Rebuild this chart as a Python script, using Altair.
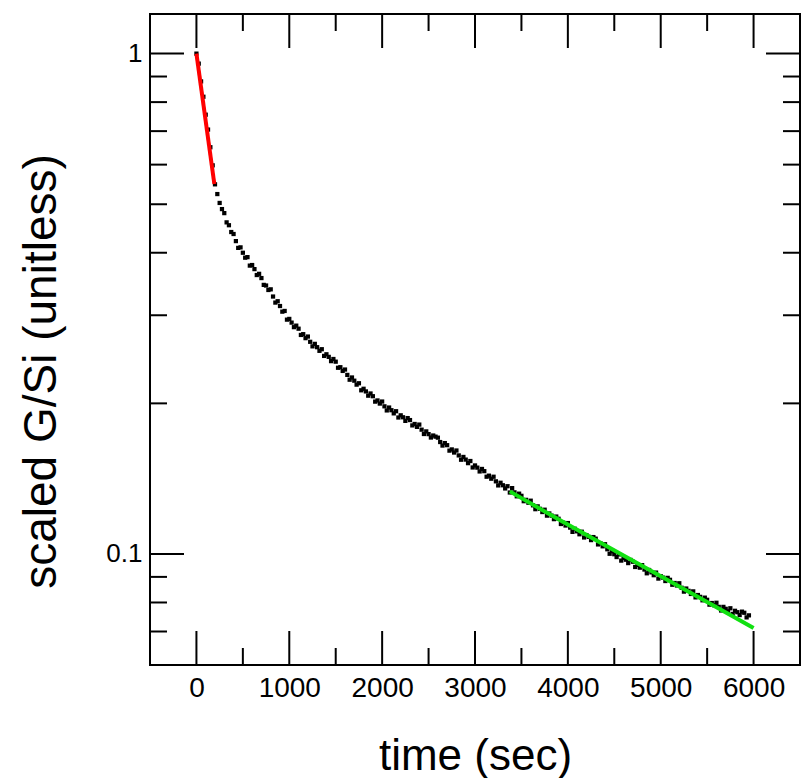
import altair as alt
import pandas as pd

# ---- data -------------------------------------------------------------
time_step = 25  # seconds between samples
gsi_values = [
    # 0 .. 275 s
    1.000, 0.955, 0.880, 0.820, 0.755, 0.705, 0.650, 0.598, 0.548, 0.524, 0.503, 0.489,
    # 300 .. 1000 s
    0.480, 0.460, 0.454, 0.440, 0.436, 0.422, 0.409, 0.410, 0.400, 0.391, 0.392, 0.377,
    0.378, 0.371, 0.361, 0.363, 0.356, 0.345, 0.344, 0.337, 0.338, 0.327, 0.318, 0.320,
    0.313, 0.305, 0.306, 0.294, 0.295,
    # 1025 .. 2000 s
    0.290, 0.284, 0.286, 0.282, 0.274, 0.275, 0.270, 0.272, 0.2655, 0.260, 0.263, 0.259,
    0.2547, 0.2566, 0.2488, 0.2507, 0.2477, 0.2429, 0.2453, 0.2423, 0.2356, 0.2362, 0.2322,
    0.2337, 0.2280, 0.2230, 0.2253, 0.2220, 0.2180, 0.2194, 0.2124, 0.2139, 0.2113, 0.2072,
    0.2093, 0.2067, 0.2016, 0.2027, 0.1998, 0.2017,
    # 2025 .. 3000 s
    0.1973, 0.1936, 0.1962, 0.1938, 0.1910, 0.1929, 0.1874, 0.1893, 0.1876, 0.1845, 0.1869,
    0.1852, 0.1807, 0.1819, 0.1795, 0.1814, 0.1772, 0.1737, 0.1758, 0.1736, 0.1709, 0.1725,
    0.1716, 0.1708, 0.1674, 0.1647, 0.1666, 0.1650, 0.1609, 0.1618, 0.1595, 0.1610, 0.1574,
    0.1543, 0.1563, 0.1544, 0.1519, 0.1534, 0.1489, 0.1503,
    # 3025 .. 4000 s
    0.1488, 0.1462, 0.1479, 0.1464, 0.1427, 0.1434, 0.1414, 0.1427, 0.1397, 0.1371, 0.1388,
    0.1372, 0.1352, 0.1366, 0.1327, 0.1354, 0.1328, 0.1304, 0.1320, 0.1307, 0.1275, 0.1283,
    0.1266, 0.1278, 0.1251, 0.1229, 0.1245, 0.1231, 0.1213, 0.1226, 0.1193, 0.1205, 0.1193,
    0.1174, 0.1188, 0.1176, 0.1148, 0.1155, 0.1140, 0.1153,
    # 4025 .. 5000 s
    0.1129, 0.1107, 0.1123, 0.1110, 0.1095, 0.1108, 0.1079, 0.1091, 0.1082, 0.1066, 0.1081,
    0.1073, 0.1045, 0.1051, 0.1036, 0.1046, 0.1022, 0.1001, 0.1013, 0.0999, 0.0986, 0.0998,
    0.0970, 0.0982, 0.0974, 0.0959, 0.0973, 0.0965, 0.0942, 0.0951, 0.0939, 0.0950, 0.0931,
    0.0915, 0.0929, 0.0919, 0.0907, 0.0918, 0.0893, 0.0903,
    # 5025 .. 5950 s
    0.0897, 0.0883, 0.0896, 0.0888, 0.0868, 0.0875, 0.0865, 0.0874, 0.0856, 0.0841, 0.0853,
    0.0844, 0.0832, 0.0842, 0.0819, 0.0828, 0.0821, 0.0808, 0.0818, 0.0810, 0.0792, 0.0798,
    0.0790, 0.0799, 0.0784, 0.0771, 0.0784, 0.0777, 0.0768, 0.0779, 0.0759, 0.0770, 0.0765,
    0.0755, 0.0767, 0.0763, 0.0747, 0.0754,
]
times = [time_step * i for i in range(len(gsi_values))]

fast_fit_t = [0, 193]
fast_fit_g = [1.0, 0.549]
slow_fit_t = [3375, 3912, 5524, 6000]
slow_fit_g = [0.1334, 0.1169, 0.0797, 0.0711]

y_major = [0.1, 1.0]
y_minor = [0.07, 0.08, 0.09, 0.2, 0.3, 0.4, 0.5, 0.6, 0.7, 0.8, 0.9]
x_major = [0, 1000, 2000, 3000, 4000, 5000, 6000]
x_minor = [500, 1500, 2500, 3500, 4500, 5500]

# ---- layout / style ----------------------------------------------------
W, H = 650, 651
FONT = "Liberation Sans"
MAJOR, MINOR = 34, 17

xs = alt.Scale(domain=[-500, 6500], nice=False, zero=False)
ys = alt.Scale(type="log", domain=[0.06, 1.2], nice=False)

pts_df = pd.DataFrame({"t": times, "g": gsi_values})
fast_df = pd.DataFrame({"t": fast_fit_t, "g": fast_fit_g})
slow_df = pd.DataFrame({"t": slow_fit_t, "g": slow_fit_g})

x_axis = alt.Axis(
    title="time (sec)", values=x_major, format="d", ticks=False, tickSize=0,
    domain=False, grid=False, labelFont=FONT, labelFontSize=28, labelColor="black",
    labelPadding=9, labelFlush=False, labelOverlap=False,
    titleFont=FONT, titleFontSize=44, titleFontWeight="normal", titleColor="black",
    titleY=104, titleBaseline="alphabetic",
)
y_axis = alt.Axis(
    title="scaled G/Si (unitless)", values=y_major, format="~g", ticks=False, tickSize=0,
    domain=False, grid=False, labelFont=FONT, labelFontSize=26, labelColor="black",
    labelPadding=8, labelFlush=False, labelOverlap=False,
    titleFont=FONT, titleFontSize=46, titleFontWeight="normal", titleColor="black",
    titleAngle=270, titleX=-95, titleY=357, titleAlign="center", titleBaseline="alphabetic",
)

X = lambda: alt.X("t:Q", scale=xs, axis=x_axis)
Y = lambda: alt.Y("g:Q", scale=ys, axis=y_axis)

points = alt.Chart(pts_df).mark_square(size=18, color="black", opacity=1).encode(x=X(), y=Y())
fast_line = alt.Chart(fast_df).mark_line(color="#ff0000", strokeWidth=4).encode(x=X(), y=Y())
slow_line = alt.Chart(slow_df).mark_line(color="#11e011", strokeWidth=4).encode(x=X(), y=Y())


def y_ticks(vals, length, side):
    d = pd.DataFrame({"g": vals})
    a, b = (0, length) if side == "left" else (W - length, W)
    return alt.Chart(d).mark_rule(color="black", strokeWidth=2).encode(
        y=Y(), x=alt.value(a), x2=alt.value(b)
    )


def x_ticks(vals, length, side):
    d = pd.DataFrame({"t": vals})
    a, b = (0, length) if side == "top" else (H - length, H)
    return alt.Chart(d).mark_rule(color="black", strokeWidth=2).encode(
        x=X(), y=alt.value(a), y2=alt.value(b)
    )


tick_layers = [
    y_ticks(y_major, MAJOR, "left"), y_ticks(y_minor, MINOR, "left"),
    y_ticks(y_major, MAJOR, "right"), y_ticks(y_minor, MINOR, "right"),
    x_ticks(x_major, MAJOR, "bottom"), x_ticks(x_minor, MINOR, "bottom"),
    x_ticks(x_major, MAJOR, "top"), x_ticks(x_minor, MINOR, "top"),
]

chart = alt.layer(points, *tick_layers, fast_line, slow_line).properties(
    width=W, height=H,
    padding={"left": 150, "top": 14, "right": 1, "bottom": 113},
    autosize=alt.AutoSizeParams(type="none"),
    background="white",
).configure_view(stroke="black", strokeWidth=2)

chart.save("out.html", embed_options={"renderer": "svg", "actions": False})
